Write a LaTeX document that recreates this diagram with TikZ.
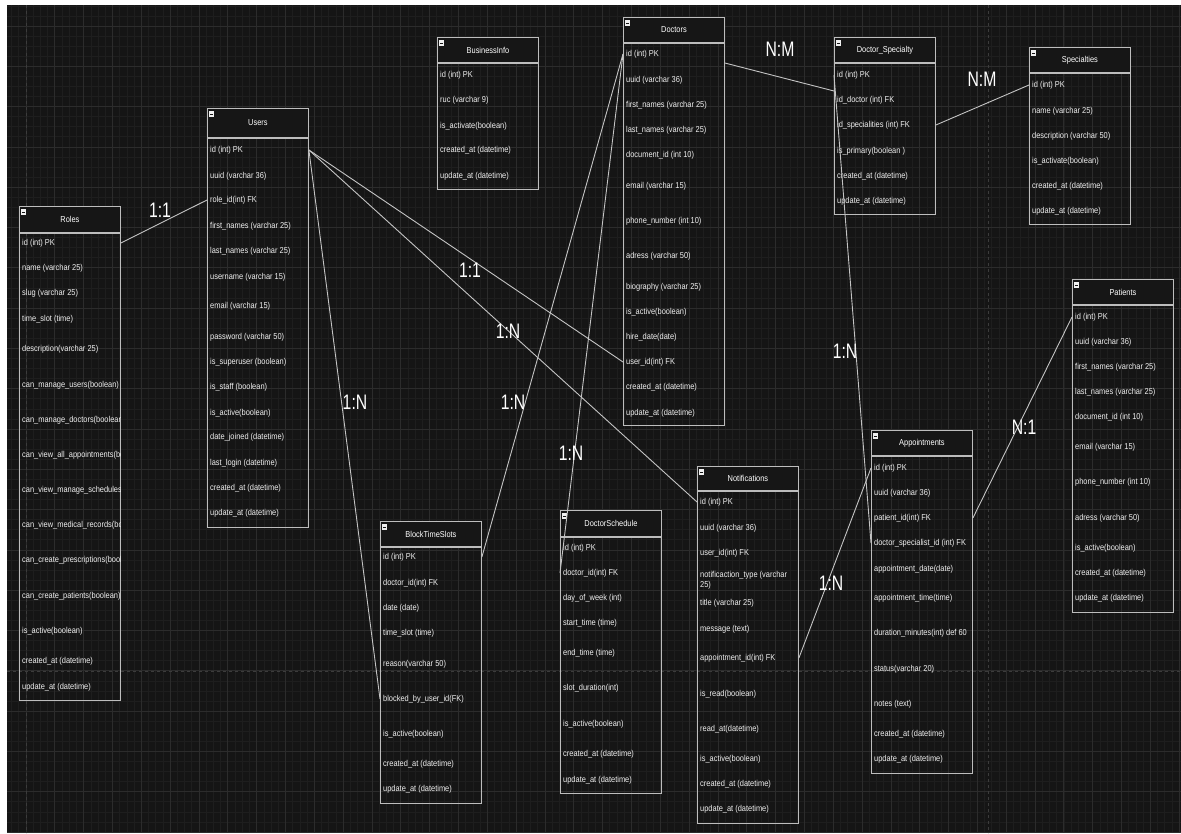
\documentclass[tikz,border=0pt]{standalone}
\usepackage{fontspec}
\newfontfamily\erfont[FakeStretch=0.865]{Liberation Sans}
\newfontfamily\cardfont[FakeStretch=0.75]{Liberation Sans}
\usetikzlibrary{positioning,
                calc}
\definecolor{canvasbg}{HTML}{151515}
\definecolor{headbg}{HTML}{161616}
\definecolor{gridminor}{HTML}{1E1E1E}
\definecolor{gridmajor}{HTML}{2C2C2C}
\definecolor{pagebreak}{HTML}{3C3C3C}
\definecolor{framegray}{HTML}{BDBDBD}
\definecolor{linkgray}{HTML}{C4C4C4}
\definecolor{fieldtxt}{HTML}{F0F0F0}
\tikzset{tblhead/.style =
   {rectangle,
    draw=framegray,
    fill=headbg,
    line width=0.9pt,
    minimum width=101pt,
    inner sep=0pt,
    anchor=north west,
    text=white,
    font=\erfont\fontsize{8.6}{9.6}\selectfont,
    path picture={
      \fill[fieldtxt] ([shift={(2pt,-3pt)}]path picture bounding box.north west) rectangle ++(5pt,-6pt);
      \draw[headbg, line width=0.8pt] ([shift={(3pt,-6pt)}]path picture bounding box.north west) -- ++(3pt,0pt);}}}
\tikzset{tblbody/.style =
   {rectangle,
    draw=framegray,
    line width=0.9pt,
    minimum width=101pt,
    inner sep=0pt}}
\tikzset{field/.style =
   {anchor=west,
    align=left,
    inner xsep=2pt,
    inner ysep=1pt,
    text=fieldtxt,
    font=\erfont\fontsize{8.6}{9.6}\selectfont}}
\tikzset{link/.style = {draw=linkgray, line width=0.9pt}}
\tikzset{cardinality/.style =
   {text=white,
    inner sep=0pt,
    font=\cardfont\fontsize{21}{22}\selectfont}}

\begin{document}
\begin{tikzpicture}[x=1pt, y=-1pt]

    \useasboundingbox (0,0) rectangle (1181,833);
    \fill[white] (0,0) rectangle (1181,833);
    \fill[canvasbg] (7,5) rectangle (1181,833);

    % grid of the canvas
    \begin{scope}
    \clip (7,5) rectangle (1181,833);
    \foreach \i in {0,...,165}
        \draw[gridminor, line width=0.7pt] ({26+(\i-4)*7.2075},5) -- ++(0,828);
    \foreach \j in {0,...,85}
        \draw[gridminor, line width=0.7pt] (7,{26+(\j-4)*10.075}) -- ++(1174,0);
    \foreach \i in {-1,...,40}
        \draw[gridmajor, line width=0.8pt] ({26+\i*28.83},5) -- ++(0,828);
    \foreach \j in {-1,...,20}
        \draw[gridmajor, line width=0.8pt] (7,{26+\j*40.3}) -- ++(1174,0);
    \draw[pagebreak, dashed, line width=0.8pt] (26,5) -- (26,833);
    \draw[pagebreak, dashed, line width=0.8pt] (988,5) -- (988,833);
    \draw[pagebreak, dashed, line width=0.8pt] (7,671) -- (1181,671);
    \end{scope}

    % Roles
    \node [tblhead, minimum height=26pt] (rol) at (19,206) {Roles};
    \node [tblbody, minimum height=467pt,
           below=0pt of rol.south west, anchor=north west] (rol-b) {};
    \begin{scope}
    \clip (19,232) rectangle (120,699);
    \foreach \yy/\txt [count=\i] in
       {243/{id (int) PK},
        268/{name (varchar 25)},
        293/{slug (varchar 25)},
        319/{time\_slot (time)},
        349/{description(varchar 25)},
        385/{can\_manage\_users(boolean)},
        420/{can\_manage\_doctors(boolean)},
        455/{can\_view\_all\_appointments(boolean)},
        490/{can\_view\_manage\_schedules(boolean)},
        525/{can\_view\_medical\_records(boolean)},
        560/{can\_create\_prescriptions(boolean)},
        596/{can\_create\_patients(boolean)},
        631/{is\_active(boolean)},
        661/{created\_at (datetime)},
        687/{update\_at (datetime)}}
        \node [field] (rol-\i) at (20,\yy) {\txt};
    \end{scope}

    % Users
    \node [tblhead, minimum height=29pt] (usr) at (207,108) {Users};
    \node [tblbody, minimum height=389pt,
           below=0pt of usr.south west, anchor=north west] (usr-b) {};
    \foreach \yy/\txt [count=\i] in
       {150/{id (int) PK},
        176/{uuid (varchar 36)},
        200/{role\_id(int) FK},
        226/{first\_names (varchar 25)},
        251/{last\_names (varchar 25)},
        277/{username (varchar 15)},
        306/{email (varchar 15)},
        337/{password (varchar 50)},
        362/{is\_superuser (boolean)},
        387/{is\_staff (boolean)},
        413/{is\_active(boolean)},
        437/{date\_joined (datetime)},
        463/{last\_login (datetime)},
        488/{created\_at (datetime)},
        513/{update\_at (datetime)}}
        \node [field] (usr-\i) at (208,\yy) {\txt};

    % BusinessInfo
    \node [tblhead, minimum height=25pt] (biz) at (437,37) {BusinessInfo};
    \node [tblbody, minimum height=126pt,
           below=0pt of biz.south west, anchor=north west] (biz-b) {};
    \foreach \yy/\txt [count=\i] in
       {75/{id (int) PK},
        100/{ruc (varchar 9)},
        126/{is\_activate(boolean)},
        150/{created\_at (datetime)},
        176/{update\_at (datetime)}}
        \node [field] (biz-\i) at (438,\yy) {\txt};

    % Doctors
    \node [tblhead, minimum height=25pt] (doc) at (623,17) {Doctors};
    \node [tblbody, minimum height=382pt,
           below=0pt of doc.south west, anchor=north west] (doc-b) {};
    \foreach \yy/\txt [count=\i] in
       {54/{id (int) PK},
        80/{uuid (varchar 36)},
        105/{first\_names (varchar 25)},
        130/{last\_names (varchar 25)},
        155/{document\_id (int 10)},
        186/{email (varchar 15)},
        221/{phone\_number (int 10)},
        256/{adress (varchar 50)},
        287/{biography (varchar 25)},
        312/{is\_active(boolean)},
        337/{hire\_date(date)},
        362/{user\_id(int) FK},
        387/{created\_at (datetime)},
        413/{update\_at (datetime)}}
        \node [field] (doc-\i) at (624,\yy) {\txt};

    % Doctor_Specialty
    \node [tblhead, minimum height=25pt] (dsp) at (834,37) {Doctor\_Specialty};
    \node [tblbody, minimum height=151pt,
           below=0pt of dsp.south west, anchor=north west] (dsp-b) {};
    \foreach \yy/\txt [count=\i] in
       {75/{id (int) PK},
        100/{id\_doctor (int) FK},
        125/{id\_specialities (int) FK},
        151/{is\_primary(boolean )},
        176/{created\_at (datetime)},
        201/{update\_at (datetime)}}
        \node [field] (dsp-\i) at (835,\yy) {\txt};

    % Specialties
    \node [tblhead, minimum height=25pt] (spc) at (1029,47) {Specialties};
    \node [tblbody, minimum height=151pt,
           below=0pt of spc.south west, anchor=north west] (spc-b) {};
    \foreach \yy/\txt [count=\i] in
       {85/{id (int) PK},
        111/{name (varchar 25)},
        136/{description (varchar 50)},
        161/{is\_activate(boolean)},
        186/{created\_at (datetime)},
        211/{update\_at (datetime)}}
        \node [field] (spc-\i) at (1030,\yy) {\txt};

    % Patients
    \node [tblhead, minimum height=25pt] (pat) at (1072,279) {Patients};
    \node [tblbody, minimum height=307pt,
           below=0pt of pat.south west, anchor=north west] (pat-b) {};
    \foreach \yy/\txt [count=\i] in
       {317/{id (int) PK},
        342/{uuid (varchar 36)},
        367/{first\_names (varchar 25)},
        392/{last\_names (varchar 25)},
        417/{document\_id (int 10)},
        447/{email (varchar 15)},
        482/{phone\_number (int 10)},
        518/{adress (varchar 50)},
        548/{is\_active(boolean)},
        573/{created\_at (datetime)},
        598/{update\_at (datetime)}}
        \node [field] (pat-\i) at (1073,\yy) {\txt};

    % Appointments
    \node [tblhead, minimum height=25pt] (apt) at (871,430) {Appointments};
    \node [tblbody, minimum height=317pt,
           below=0pt of apt.south west, anchor=north west] (apt-b) {};
    \foreach \yy/\txt [count=\i] in
       {468/{id (int) PK},
        493/{uuid (varchar 36)},
        518/{patient\_id(int) FK},
        543/{doctor\_specialist\_id (int) FK},
        569/{appointment\_date(date)},
        598/{appointment\_time(time)},
        633/{duration\_minutes(int) def 60},
        669/{status(varchar 20)},
        704/{notes (text)},
        734/{created\_at (datetime)},
        759/{update\_at (datetime)}}
        \node [field] (apt-\i) at (872,\yy) {\txt};

    % Notifications
    \node [tblhead, minimum height=24pt] (ntf) at (697,466) {Notifications};
    \node [tblbody, minimum height=332pt,
           below=0pt of ntf.south west, anchor=north west] (ntf-b) {};
    \foreach \yy/\txt [count=\i] in
       {502/{id (int) PK},
        528/{uuid (varchar 36)},
        553/{user\_id(int) FK},
        580/{notificaction\_type (varchar\\25)},
        603/{title (varchar 25)},
        629/{message (text)},
        658/{appointment\_id(int) FK},
        694/{is\_read(boolean)},
        729/{read\_at(datetime)},
        759/{is\_active(boolean)},
        784/{created\_at (datetime)},
        809/{update\_at (datetime)}}
        \node [field] (ntf-\i) at (698,\yy) {\txt};

    % BlockTimeSlots
    \node [tblhead, minimum height=25pt] (bts) at (380,521) {BlockTimeSlots};
    \node [tblbody, minimum height=256pt,
           below=0pt of bts.south west, anchor=north west] (bts-b) {};
    \foreach \yy/\txt [count=\i] in
       {557/{id (int) PK},
        583/{doctor\_id(int) FK},
        608/{date (date)},
        633/{time\_slot (time)},
        664/{reason(varchar 50)},
        699/{blocked\_by\_user\_id(FK)},
        734/{is\_active(boolean)},
        764/{created\_at (datetime)},
        789/{update\_at (datetime)}}
        \node [field] (bts-\i) at (381,\yy) {\txt};

    % DoctorSchedule
    \node [tblhead, minimum height=26pt] (dsc) at (560,510) {DoctorSchedule};
    \node [tblbody, minimum height=256pt,
           below=0pt of dsc.south west, anchor=north west] (dsc-b) {};
    \foreach \yy/\txt [count=\i] in
       {548/{id (int) PK},
        573/{doctor\_id(int) FK},
        598/{day\_of\_week (int)},
        623/{start\_time (time)},
        653/{end\_time (time)},
        688/{slot\_duration(int)},
        724/{is\_active(boolean)},
        754/{created\_at (datetime)},
        780/{update\_at (datetime)}}
        \node [field] (dsc-\i) at (561,\yy) {\txt};

    % relations
    \coordinate (doc-r) at ($(doc-1 -| doc.east)+(0,9)$);
    \coordinate (dsp-l) at ($(dsp-2 -| dsp.west)+(0,-9)$);
    \draw [link] (rol-1 -| rol.east) -- (usr-3 -| usr.west);
    \draw [link] (usr-1 -| usr.east) -- (doc-12 -| doc.west);
    \draw [link] (usr-1 -| usr.east) -- (ntf-1 -| ntf.west);
    \draw [link] (usr-1 -| usr.east) -- (bts-6 -| bts.west);
    \draw [link] (doc-1 -| doc.west) -- (bts-1 -| bts.east);
    \draw [link] (doc-1 -| doc.west) -- (dsc-2 -| dsc.west);
    \draw [link] (doc-r) -- (dsp-l);
    \draw [link] (dsp-3 -| dsp.east) -- (spc-1 -| spc.west);
    \draw [link] (dsp-1 -| dsp.west) -- (apt-4 -| apt.west);
    \draw [link] (ntf-7 -| ntf.east) -- (apt-1 -| apt.west);
    \draw [link] (apt-3 -| apt.east) -- (pat-1 -| pat.west);

    % cardinalities
    \node [cardinality] (card-rolusr) at (160,210) {1:1};
    \node [cardinality] (card-usrdoc) at (470,270) {1:1};
    \node [cardinality] (card-usrntf) at (508,331) {1:N};
    \node [cardinality] (card-usrbts) at (355,402) {1:N};
    \node [cardinality] (card-docbts) at (513,402) {1:N};
    \node [cardinality] (card-docdsc) at (571,453) {1:N};
    \node [cardinality] (card-docdsp) at (780,49) {N:M};
    \node [cardinality] (card-dspspc) at (982,79) {N:M};
    \node [cardinality] (card-dspapt) at (845,351) {1:N};
    \node [cardinality] (card-ntfapt) at (831,583) {1:N};
    \node [cardinality] (card-aptpat) at (1024,427) {N:1};

\end{tikzpicture}
\end{document}
